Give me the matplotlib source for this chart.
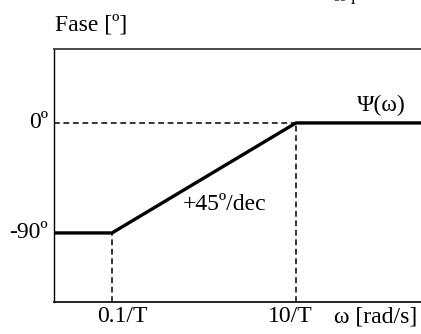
import matplotlib
matplotlib.use("Agg")
import matplotlib.pyplot as plt

# Data
freq = [0.0234, 0.1, 10, 229]          # rad/s (relative to 1/T)
phase = [-90, -90, 0, 0]               # degrees
break_freqs = [0.1, 10]
break_labels = ["0.1/T", "10/T"]
ytick_vals = [0, -90]
ytick_labels = ["0º", "-90º"]

plt.rcParams['font.family'] = ['Liberation Serif', 'DejaVu Serif']
FS = 17

fig = plt.figure(figsize=(4.21, 3.34), dpi=100)
ax = fig.add_axes([54/421, 32/334, 1 - 54/421, (302-49)/334])
ax.set_xscale('log')
ax.set_xlim(freq[0], freq[-1])
ax.set_ylim(-146.5, 60.5)

ax.plot(freq, phase, color='black', lw=2.4, solid_capstyle='butt', zorder=3)

# dashed guides
DASH = (3.8, 2.4)
ax.plot([freq[0], break_freqs[1]], [0, 0], color='black', lw=1.1,
        dashes=DASH, zorder=2)
ax.plot([break_freqs[0], break_freqs[0]], [-146.5, -90], color='black', lw=1.1,
        dashes=DASH, zorder=2)
ax.plot([break_freqs[1], break_freqs[1]], [-146.5, 0], color='black', lw=1.1,
        dashes=DASH, zorder=2)

ax.set_xticks([])
ax.set_yticks([])
ax.xaxis.set_minor_locator(matplotlib.ticker.NullLocator())
ax.spines['right'].set_visible(False)
ax.spines['left'].set_linewidth(1.0)
ax.spines['bottom'].set_linewidth(1.2)
ax.spines['top'].set_linewidth(1.3)
ax.spines['top'].set_color('#3a3a3a')

# y labels
for v, lab in zip(ytick_vals, ytick_labels):
    ax.text(-0.016, v, lab, transform=ax.get_yaxis_transform(), ha='right',
            va='center', fontsize=FS)

# x labels
fig.text(122/421, 1 - 316/334, break_labels[0], ha='center', va='center', fontsize=FS)
fig.text(290/421, 1 - 316/334, break_labels[1], ha='center', va='center', fontsize=FS)
fig.text(376/421, 1 - 317/334, "ω [rad/s]", ha='center', va='center', fontsize=FS)

fig.text(55/421, 1 - 25/334, "Fase [º]", ha='left', va='center', fontsize=FS)
fig.text(381/421, 1 - 105/334, "Ψ(ω)", ha='center', va='center', fontsize=FS)
fig.text(225/421, 1 - 205/334, "+45º/dec", ha='center', va='center', fontsize=FS)

# cropped label at top edge (as in the reference)
fig.text(332/421, 1 - 2/334, r"$\omega_1$", ha='left', va='baseline', fontsize=FS,
         math_fontfamily='stix')

fig.savefig("out.png", dpi=100)
